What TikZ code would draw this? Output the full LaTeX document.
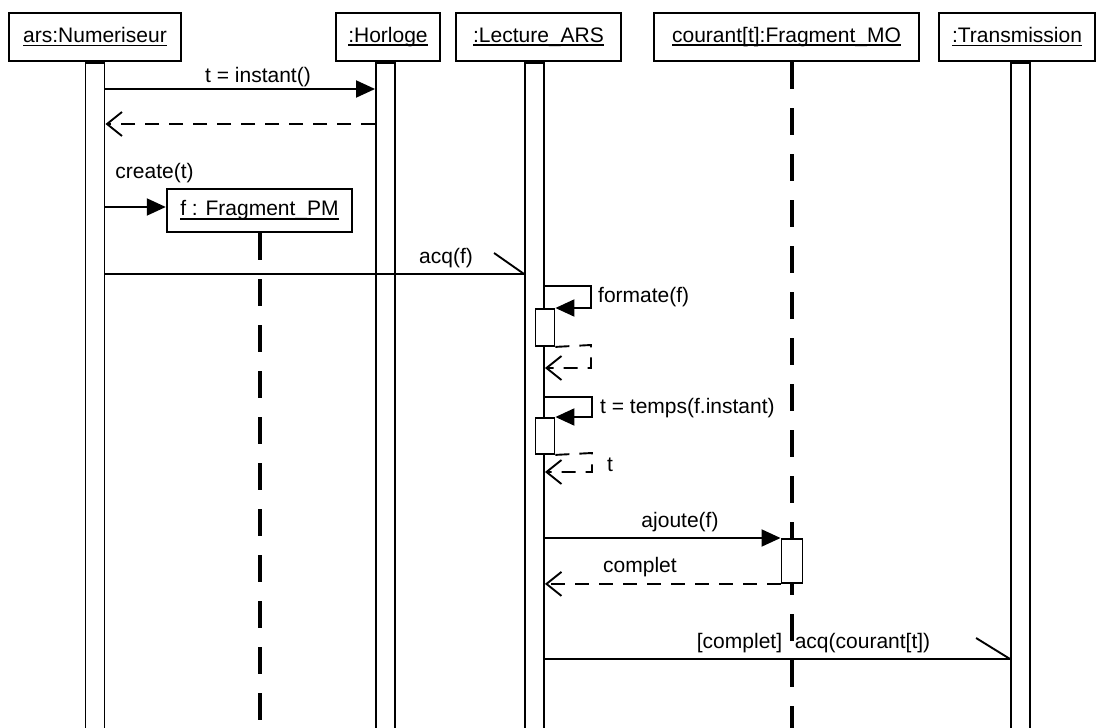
\documentclass[tikz,border=0pt]{standalone}
\usepackage{fontspec}
\setmainfont{Liberation Sans}
\usetikzlibrary{arrows.meta}
\newcommand{\ulbox}[1]{\setbox0\hbox{#1}\rlap{\rule[-3.6pt]{\wd0}{1.8pt}}\box0}
\begin{document}
\begin{tikzpicture}[x=1pt,y=-1pt,
  every node/.style={font=\fontsize{21}{24}\selectfont},
  objbox/.style={draw, line width=2.4pt, fill=white, inner sep=0pt, minimum height=48pt},
  actbar/.style={draw, line width=1.9pt, fill=white, inner sep=0pt, minimum width=19pt},
  lifeline/.style={line width=4pt, dash pattern=on 27pt off 19pt},
  msg/.style={line width=1.9pt},
  call/.style={msg, -{Triangle[length=19pt,width=17pt]}},
  ret/.style={msg, dash pattern=on 14pt off 10pt, -{Straight Barb[length=15pt,width=24pt,line width=1.9pt]}},
  lbl/.style={inner sep=0pt}]
\useasboundingbox (0,0) rectangle (1096,728);
\clip (0,0) rectangle (1096,728);

% objects
\node[objbox, minimum width=172pt] (ars) at (95,37) {\ulbox{ars:Numeriseur}};
\node[objbox, minimum width=104pt] (hor) at (388,37) {\ulbox{:Horloge}};
\node[objbox, minimum width=165pt] (lec) at (538.5,37) {\ulbox{:Lecture\_ARS}};
\node[objbox, minimum width=265pt] (cou) at (786.5,37) {\ulbox{courant[t]:Fragment\_MO}};
\node[objbox, minimum width=156pt] (tra) at (1017,37) {\ulbox{:Transmission}};

% activation bars (lifelines)
\node[actbar, minimum height=700pt, anchor=north] (abar) at (ars.south) {};
\node[actbar, minimum height=700pt, anchor=north] (hbar) at ([xshift=-2.5pt]hor.south) {};
\node[actbar, minimum height=700pt, anchor=north] (lbar) at ([xshift=-4pt]lec.south) {};
\node[actbar, minimum height=700pt, anchor=north] (tbar) at ([xshift=3.5pt]tra.south) {};

% dashed lifeline of courant
\coordinate (cl) at ([xshift=5.5pt]cou.south);
\draw[lifeline] (cl) -- (cl |- 0,740);

% created object
\node[objbox, minimum width=185pt, minimum height=43pt] (fpm) at (259.5,210.5) {\ulbox{f : Fragment\_PM}};
\draw[lifeline] (fpm.south) -- (fpm.south |- 0,740);

% t = instant()
\draw[call] (abar.east |- 0,89) -- (hbar.west |- 0,89);
\node[lbl] (l1) at (258,77) {t = instant()};
\draw[ret] (hbar.west |- 0,124) -- (abar.east |- 0,124);

% create(t)
\node[lbl] (l2) at (154.5,173) {create(t)};
\draw[call] (abar.east |- 0,207) -- (fpm.west |- 0,207);

% acq(f)
\coordinate (acqf) at (lbar.west |- 0,274);
\draw[msg] (abar.east |- 0,274) -- (acqf);
\draw[msg] (acqf) -- ++(-30,-21);
\node[lbl] (l3) at (446,258) {acq(f)};

% formate(f)
\node[actbar, minimum height=37pt, anchor=north west] (act1) at (lbar.center |- 0,308) {};
\draw[call] (lbar.east |- 0,286) -- (591,286) -- (591,308) -- (act1.north east);
\draw[ret] (act1.south east) -- (591,345) -- (591,368) -- (lbar.east |- 0,368);
\node[lbl, anchor=west] (l4) at (598,297) {formate(f)};

% t = temps(f.instant)
\node[actbar, minimum height=36pt, anchor=north west] (act2) at (lbar.center |- 0,417) {};
\draw[call] (lbar.east |- 0,397) -- (592,397) -- (592,417) -- (act2.north east);
\draw[ret] (act2.south east) -- (592,453) -- (592,472) -- (lbar.east |- 0,472);
\node[lbl, anchor=west] (l5) at (600,408) {t = temps(f.instant)};
\node[lbl, anchor=west] (l6) at (607,465) {t};

% ajoute(f)
\node[actbar, minimum width=21pt, minimum height=44pt, anchor=north] (act3) at (cl |- 0,538) {};
\draw[call] (lbar.east |- 0,538) -- (act3.north west);
\node[lbl] (l7) at (680,522) {ajoute(f)};
\draw[ret] (act3.south west) -- (lbar.east |- act3.south west);
\node[lbl] (l8) at (640,567) {complet};

% [complet] acq(courant[t])
\coordinate (acqc) at (tbar.west |- 0,659);
\draw[msg] (lbar.east |- 0,659) -- (acqc);
\draw[msg] (acqc) -- ++(-34,-21);
\node[lbl] (l9) at (739.5,643) {[complet]};
\node[lbl] (l10) at (862.5,643) {acq(courant[t])};
\end{tikzpicture}
\end{document}
